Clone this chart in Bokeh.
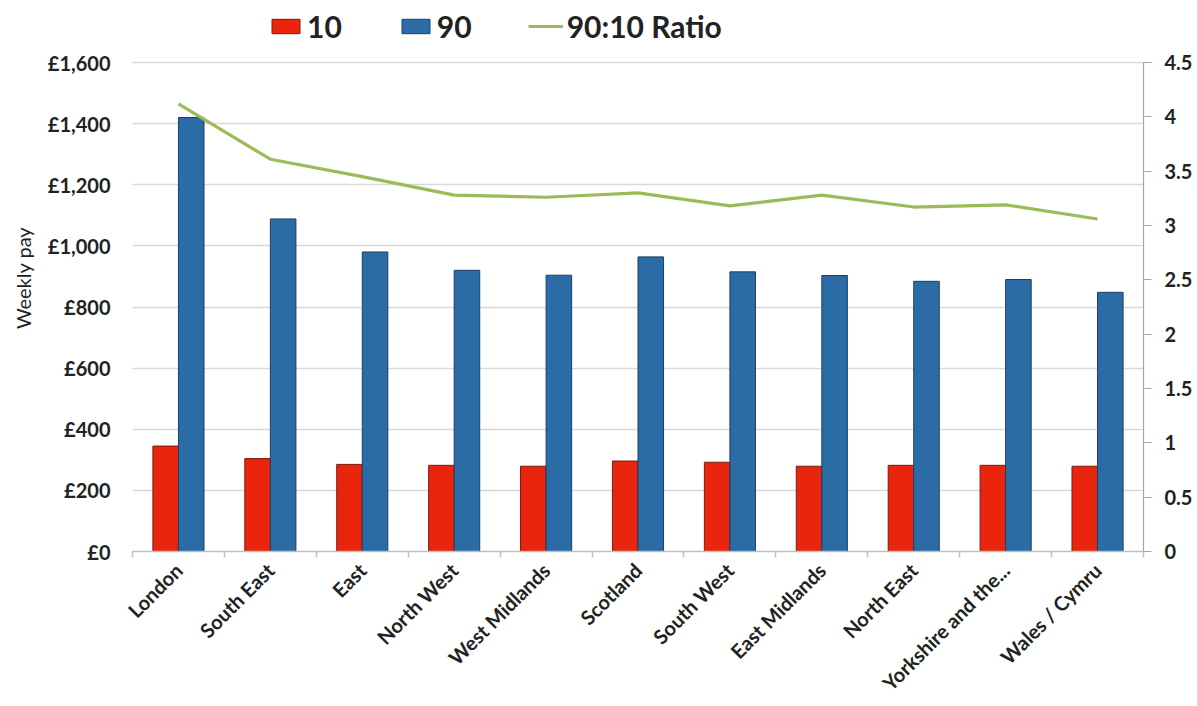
import numpy as np
from bokeh.plotting import figure
from bokeh.models import (Range1d, LinearAxis, FixedTicker, Legend, LegendItem,
                          ColumnDataSource, NumeralTickFormatter)
from bokeh.transform import dodge
from bokeh.embed import file_html
from bokeh.resources import INLINE

regions = ["London", "South East", "East", "North West", "West Midlands", "Scotland",
           "South West", "East Midlands", "North East", "Yorkshire and the...", "Wales / Cymru"]
p10 = [345, 304, 285, 282, 279, 296, 292, 279, 282, 282, 279]
p90 = [1420, 1088, 980, 920, 904, 964, 915, 903, 884, 890, 848]
ratio = [4.12, 3.61, 3.45, 3.28, 3.26, 3.30, 3.18, 3.28, 3.17, 3.19, 3.06]
pay_ticks = [0, 200, 400, 600, 800, 1000, 1200, 1400, 1600]
ratio_ticks = [0, 0.5, 1, 1.5, 2, 2.5, 3, 3.5, 4, 4.5]

RED = "#E9260D"
BLUE = "#2C6CA6"
GREEN = "#9BBB59"
TXT = "#222222"
FONT = "Lato"

# layout: plotted area spans pixels 62..551; frame extends up to leave room for legend
TOP_PX, AX_TOP, AX_BOT = 4, 62, 551
stretch = (AX_BOT - TOP_PX) / (AX_BOT - AX_TOP)
pay_max, ratio_max = 1600, 4.5

n = len(regions)
xc = [i + 0.5 for i in range(n)]
src = ColumnDataSource(dict(x=xc, p10=p10, p90=p90, ratio=ratio))

p = figure(width=1197, height=706, output_backend="svg", toolbar_location=None,
           x_range=Range1d(0, n), y_range=Range1d(0, pay_max * stretch),
           min_border_left=132, min_border_right=54, min_border_top=TOP_PX, min_border_bottom=155,
           x_axis_location=None, y_axis_location=None)
p.extra_y_ranges = {"ratio": Range1d(0, ratio_max * stretch)}
p.outline_line_color = None
p.background_fill_color = "white"
p.border_fill_color = "white"

# axes
xaxis = LinearAxis(ticker=FixedTicker(ticks=xc, minor_ticks=list(range(n + 1))))
xaxis.major_label_overrides = {x: r for x, r in zip(xc, regions)}
xaxis.major_label_orientation = np.pi / 4
xaxis.major_tick_out = 0
xaxis.major_tick_in = 0
xaxis.minor_tick_out = 6
xaxis.minor_tick_in = 0
xaxis.minor_tick_line_color = "#BFBFBF"
xaxis.minor_tick_line_width = 1.5
xaxis.axis_line_color = "#BFBFBF"
xaxis.axis_line_width = 1.5
xaxis.major_label_text_font = FONT
xaxis.major_label_text_font_style = "bold"
xaxis.major_label_text_font_size = "20px"
xaxis.major_label_text_color = TXT
xaxis.major_label_standoff = 9
p.add_layout(xaxis, "below")

yaxis = LinearAxis(ticker=FixedTicker(ticks=pay_ticks, minor_ticks=[]), bounds=(0, pay_max))
yaxis.major_label_overrides = {t: f"£{t:,}" for t in pay_ticks}
yaxis.axis_line_color = None
yaxis.major_tick_line_color = None
yaxis.major_tick_out = 0
yaxis.major_tick_in = 0
yaxis.major_label_standoff = 22
yaxis.major_label_text_font = FONT
yaxis.major_label_text_font_style = "bold"
yaxis.major_label_text_font_size = "20px"
yaxis.major_label_text_color = TXT
yaxis.axis_label = "Weekly pay"
yaxis.axis_label_text_font = FONT
yaxis.axis_label_text_font_style = "normal"
yaxis.axis_label_text_font_size = "20px"
yaxis.axis_label_text_color = TXT
yaxis.axis_label_standoff = 10
p.add_layout(yaxis, "left")

raxis = LinearAxis(y_range_name="ratio", ticker=FixedTicker(ticks=ratio_ticks, minor_ticks=[]),
                   bounds=(0, ratio_max))
raxis.formatter = NumeralTickFormatter(format="0.[0]")
raxis.axis_line_color = "#A6A6A6"
raxis.axis_line_width = 1.2
raxis.major_tick_line_color = "#A6A6A6"
raxis.major_tick_out = 8
raxis.major_tick_in = 0
raxis.major_label_standoff = 13
raxis.major_label_text_font = FONT
raxis.major_label_text_font_style = "bold"
raxis.major_label_text_font_size = "20px"
raxis.major_label_text_color = TXT
p.add_layout(raxis, "right")

# grid
p.xgrid.visible = False
p.ygrid.ticker = FixedTicker(ticks=pay_ticks)
p.ygrid.grid_line_color = "#D9D9D9"
p.ygrid.grid_line_width = 1.5

# bars
bw = 0.278
r10 = p.vbar(x=dodge("x", -bw / 2, range=p.x_range), top="p10", bottom=0, width=bw, source=src,
             fill_color=RED, line_color="#7A1A0E", line_width=1)
r90 = p.vbar(x=dodge("x", bw / 2, range=p.x_range), top="p90", bottom=0, width=bw, source=src,
             fill_color=BLUE, line_color="#1B3F63", line_width=1)
rl = p.line(x="x", y="ratio", source=src, y_range_name="ratio", line_color=GREEN, line_width=3.2)

legend = Legend(items=[LegendItem(label="10", renderers=[r10]),
                       LegendItem(label="90", renderers=[r90]),
                       LegendItem(label="90:10 Ratio", renderers=[rl])],
                location=(136, 507), orientation="horizontal")
legend.glyph_width = 35
legend.glyph_height = 18
legend.label_standoff = 4
legend.spacing = 56
legend.padding = 0
legend.margin = 0
legend.border_line_color = None
legend.background_fill_alpha = 0
legend.label_text_font = FONT
legend.label_text_font_style = "bold"
legend.label_text_font_size = "30px"
legend.label_text_color = TXT
p.add_layout(legend, "center")

open("out.html", "w").write(file_html(p, INLINE))
